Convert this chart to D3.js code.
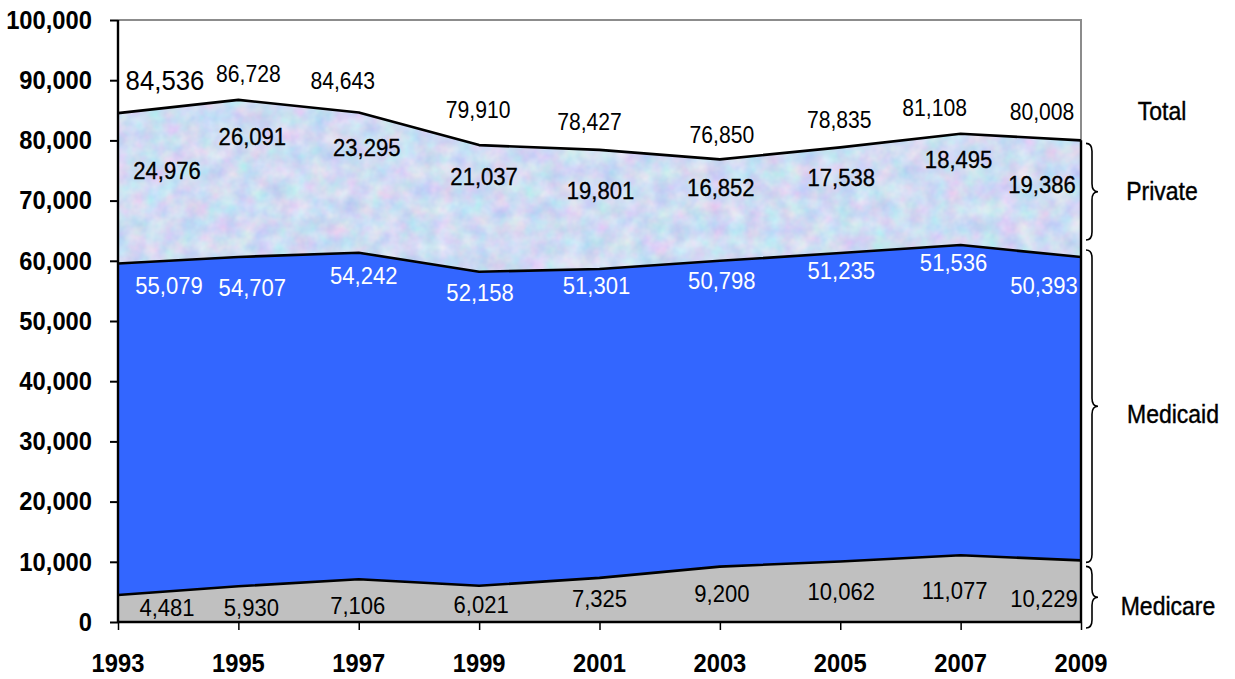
<!DOCTYPE html>
<html><head><meta charset="utf-8">
<script src="https://cdn.jsdelivr.net/npm/d3@7/dist/d3.min.js"></script>
<style>
html,body{margin:0;padding:0;background:#fff;}
svg{display:block;font-family:"Liberation Sans",Arial,sans-serif;}
</style></head>
<body><svg id="c" width="1235" height="679"></svg>
<script>
const years    = [1993,1995,1997,1999,2001,2003,2005,2007,2009];
const medicare = [4481,5930,7106,6021,7325,9200,10062,11077,10229];
const medicaid = [55079,54707,54242,52158,51301,50798,51235,51536,50393];
const privateP = [24976,26091,23295,21037,19801,16852,17538,18495,19386];
const totals   = [84536,86728,84643,79910,78427,76850,78835,81108,80008];
const yTicks   = [0,10000,20000,30000,40000,50000,60000,70000,80000,90000,100000];
const seriesNames = ["Medicare","Medicaid","Private"];

// label nudges (layout only, px)
const totDx = [47,10,-16,-1,-10,2,-1,-26,-39], totDy = [-33,-26,-32,-31,-28,-24,-27,-26,-28];
const priDx = [49,14,8,5,1,1,1,-2,-39],        priDy = [57,37,35,31,41,28,30,26,44];
const mcdDx = [51,14,5,1,-3,2,1,-7,-37],       mcdDy = [22,31,23,21,17,20,18,18,29];
const mcrDx = [49,13,-1,2,0,2,1,-6,-37],       mcrDy = [13,21,26,19,21,27,30,35,38];

const svg = d3.select("#c");
const L=118, R=1081, T=20, B=622;
const x = d3.scaleLinear().domain([1993,2009]).range([L,R]);
const y = d3.scaleLinear().domain([0,100000]).range([B,T]);
const SX = 0.92;

const rows = years.map((yr,i)=>({year:yr, Medicare:medicare[i], Medicaid:medicaid[i], Private:privateP[i]}));
const stack = d3.stack().keys(seriesNames)(rows);

const defs = svg.append("defs");
const f = defs.append("filter").attr("id","tex").attr("filterUnits","userSpaceOnUse")
  .attr("color-interpolation-filters","sRGB")
  .attr("x",L).attr("y",T).attr("width",R-L).attr("height",B-T);
f.append("feTurbulence").attr("type","fractalNoise").attr("baseFrequency","0.055").attr("numOctaves",3).attr("seed",11);
f.append("feColorMatrix").attr("type","matrix").attr("values",
  "0.28 0 0 0 0.67  0 0.20 0 0 0.76  0 0 0.08 0 0.91  0 0 0 0 1");

const area = d3.area().x((d,i)=>x(years[i])).y0(d=>y(d[0])).y1(d=>y(d[1]));
defs.append("clipPath").attr("id","privClip").append("path").attr("d", area(stack[2]));

// plot frame (gray top/right)
svg.append("path").attr("d",`M${L},${T}H${R}V${B}`).attr("fill","none").attr("stroke","#8c8c8c").attr("stroke-width",2);

// areas
svg.append("path").attr("d",area(stack[0])).attr("fill","#c0c0c0");
svg.append("path").attr("d",area(stack[1])).attr("fill","#3366ff");
svg.append("rect").attr("x",L).attr("y",T).attr("width",R-L).attr("height",B-T)
  .attr("filter","url(#tex)").attr("clip-path","url(#privClip)");

// outlines
const line = d3.line().x((d,i)=>x(years[i])).y(d=>y(d[1]));
stack.forEach(s=>{
  svg.append("path").attr("d",line(s)).attr("fill","none").attr("stroke","#000").attr("stroke-width",2.6).attr("stroke-linejoin","round");
});
svg.append("line").attr("x1",R).attr("x2",R).attr("y1",y(totals[8])).attr("y2",B).attr("stroke","#000").attr("stroke-width",2.4);

// axes
const yAxis = svg.append("g").attr("transform",`translate(${L},0)`)
  .call(d3.axisLeft(y).tickValues(yTicks).tickSize(8).tickFormat(""));
yAxis.select(".domain").attr("stroke","#000").attr("stroke-width",2.4).attr("d",`M0,${T}V${B}`);
yAxis.selectAll(".tick line").attr("stroke","#000").attr("stroke-width",2);
const xAxis = svg.append("g").attr("transform",`translate(0,${B})`)
  .call(d3.axisBottom(x).tickValues(years).tickSize(8).tickFormat(""));
xAxis.select(".domain").attr("stroke","#000").attr("stroke-width",2.4).attr("d",`M${L},0H${R}`);
xAxis.selectAll(".tick line").attr("stroke","#000").attr("stroke-width",1.5);

function txt(px,py,s,o){
  const t = svg.append("text").attr("transform",`translate(${px},${py}) scale(${o.sx||SX},1)`)
    .attr("text-anchor",o.anchor||"middle").attr("dy","0.35em")
    .attr("font-size",o.size).attr("font-weight",o.weight||"normal").attr("fill",o.fill||"#000").text(s);
  if(o.stroke) t.attr("stroke",o.fill||"#000").attr("stroke-width",o.stroke);
  return t;
}
const fmt = d3.format(",");
yTicks.forEach(v=>txt(92,y(v),fmt(v),{size:25,weight:"bold",anchor:"end",sx:0.95}));
years.forEach(yr=>txt(x(yr),663,String(yr),{size:25,weight:"bold",sx:0.95}));

years.forEach((yr,i)=>{
  txt(x(yr)+totDx[i], y(totals[i])+totDy[i], fmt(totals[i]), {size: i===0?28:23});
  txt(x(yr)+priDx[i], y(stack[2][i][1])+priDy[i], fmt(privateP[i]), {size:24, stroke:0.35});
  txt(x(yr)+mcdDx[i], y(stack[1][i][1])+mcdDy[i], fmt(medicaid[i]), {size:24, fill:"#fff"});
  txt(x(yr)+mcrDx[i], y(stack[0][i][1])+mcrDy[i], fmt(medicare[i]), {size:24});
});

// braces
function brace(bx,y0,y1,w){
  const m=(y0+y1)/2, r=Math.min(8,(y1-y0)/6), h=bx+w/2;
  return `M${bx},${y0}Q${h},${y0} ${h},${y0+r}L${h},${m-r}Q${h},${m} ${bx+w},${m}Q${h},${m} ${h},${m+r}L${h},${y1-r}Q${h},${y1} ${bx},${y1}`;
}
const bx = R+5;
const braceSpans = [[y(totals[8])+3, y(stack[1][8][1])-17],[y(stack[1][8][1])-7, y(stack[0][8][1])+2],[y(stack[0][8][1])+6, B+6]];
braceSpans.forEach(s=>svg.append("path").attr("d",brace(bx,s[0],s[1],12)).attr("fill","none").attr("stroke","#000").attr("stroke-width",1.6));

txt(1162,111,"Total",{size:25,stroke:0.4});
txt(1162,191,"Private",{size:25,stroke:0.4});
txt(1173,414,"Medicaid",{size:25,stroke:0.4});
txt(1168,606,"Medicare",{size:25,stroke:0.4});
</script></body></html>
